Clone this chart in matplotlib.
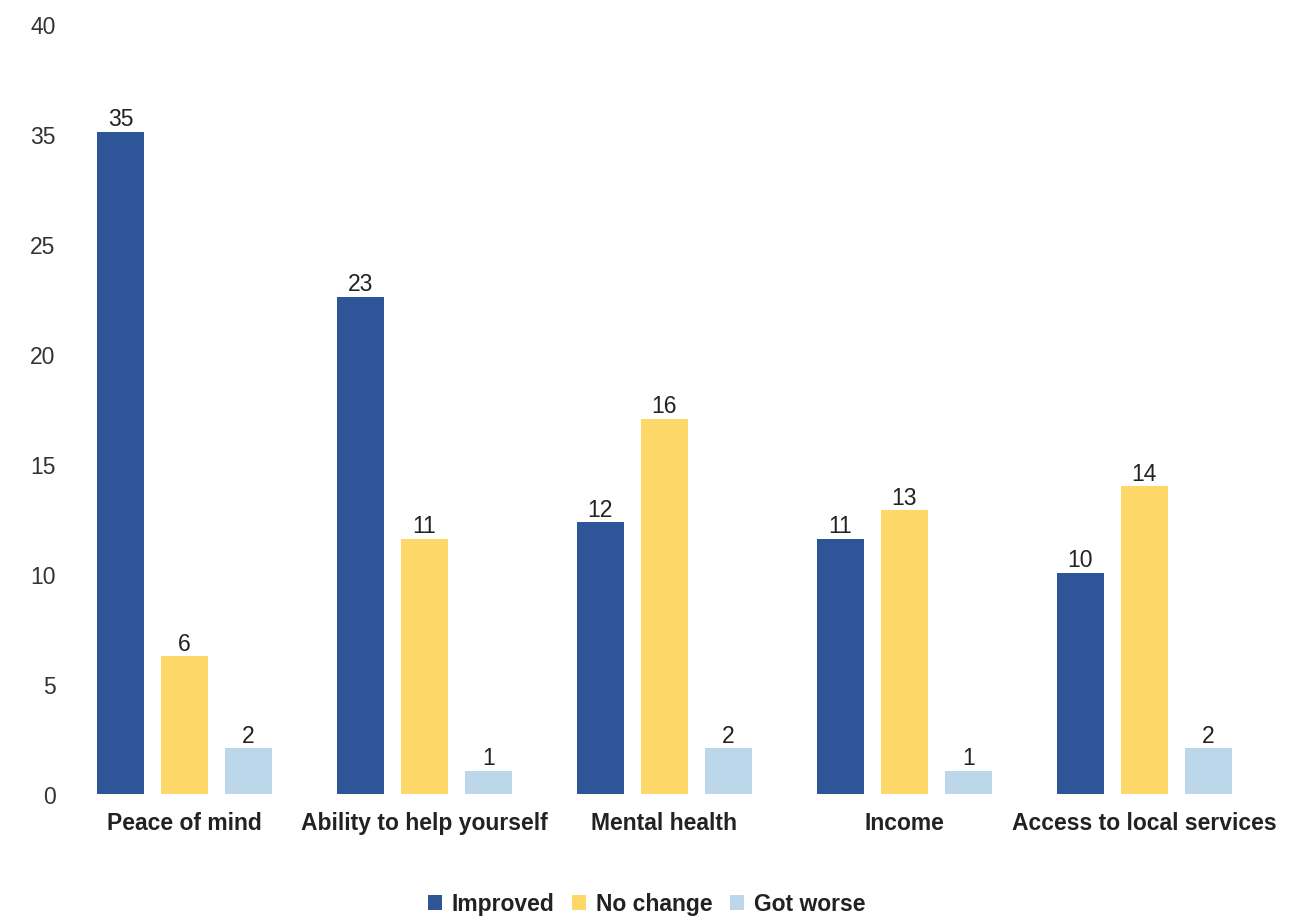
import matplotlib.pyplot as plt
import numpy as np

plt.rcParams['font.family'] = ['Liberation Sans', 'DejaVu Sans']

categories = ['Peace of mind', 'Ability to help yourself', 'Mental health',
              'Income', 'Access to local services']
series = ['Improved', 'No change', 'Got worse']
colors = ['#2E5597', '#FDD868', '#BDD7EA']

# bar heights as drawn on the axis
improved = [30.1, 22.6, 12.35, 11.6, 10.05]
no_change = [6.27, 11.6, 17.05, 12.9, 14.0]
got_worse = [2.09, 1.05, 2.09, 1.05, 2.09]

# value labels as printed above the bars
improved_lbl = ['35', '23', '12', '11', '10']
no_change_lbl = ['6', '11', '16', '13', '14']
got_worse_lbl = ['2', '1', '2', '1', '2']

# y tick labels as printed
ytick_pos = [0, 5, 10, 15, 20, 25, 30, 35]
ytick_lbl = ['0', '5', '10', '15', '20', '25', '35', '40']

fig = plt.figure(figsize=(13.13, 9.2), dpi=100)
ax = fig.add_axes([0.0491, 0.1359, 0.9139, 0.837])

x = np.arange(len(categories))
width = 0.196
offsets = [-0.267, 0, 0.267]
values = [improved, no_change, got_worse]
labels = [improved_lbl, no_change_lbl, got_worse_lbl]

for i in range(3):
    bars = ax.bar(x + offsets[i], values[i], width, color=colors[i], label=series[i])
    for b, t in zip(bars, labels[i]):
        ax.annotate(t, (b.get_x() + b.get_width() / 2, b.get_height()),
                    xytext=(0, 1), textcoords='offset points',
                    ha='center', va='bottom', fontsize=16.5, color='#222222')

ax.set_xlim(-0.5, 4.5)
ax.set_ylim(0, 35)
ax.set_yticks(ytick_pos)
ax.set_yticklabels(ytick_lbl)
ax.set_xticks(x)
ax.set_xticklabels(categories, fontweight='bold')
ax.tick_params(axis='y', length=0, pad=6.5, labelsize=16.5, labelcolor='#333333')
ax.tick_params(axis='x', length=0, pad=12.5, labelsize=16.5, labelcolor='#222222')
for s in ax.spines.values():
    s.set_visible(False)

leg = fig.legend(loc='center', bbox_to_anchor=(0.4925, 0.0165), ncol=3,
                 frameon=False, handlelength=0.6, handleheight=0.6,
                 handletextpad=0.45, columnspacing=0.75,
                 prop={'size': 16.5, 'weight': 'bold'})
for t in leg.get_texts():
    t.set_color('#222222')

fig.savefig('out.png', dpi=100)
